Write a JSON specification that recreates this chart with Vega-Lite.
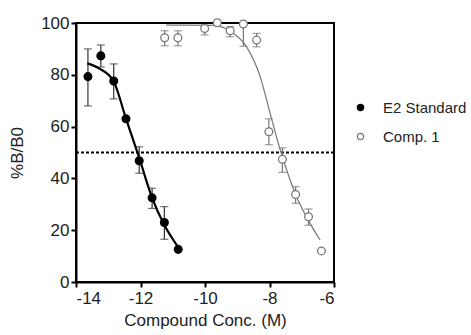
{
  "$schema": "https://vega.github.io/schema/vega-lite/v6.json",
  "autosize": {"type": "none"},
  "padding": {"left": 76, "top": 23, "right": 137, "bottom": 53},
  "width": 258,
  "height": 259,
  "background": "white",
  "config": {
    "view": {"stroke": "black", "strokeWidth": 2},
    "font": "Liberation Sans",
    "axis": {"grid": false, "domainColor": "black", "domainWidth": 2, "tickColor": "black", "tickWidth": 2, "tickSize": 5, "labelColor": "#222", "labelFontSize": 17, "labelFont": "Liberation Sans", "titleFont": "Liberation Sans", "titleFontSize": 17, "titleFontWeight": "normal", "titleColor": "#222"}
  },
  "datasets": {
    "pts": [
      {"series": "E2 Standard", "x": -13.63, "y": 79.3, "lo": 68, "hi": 90},
      {"series": "E2 Standard", "x": -13.23, "y": 87.3, "lo": 83, "hi": 91.5},
      {"series": "E2 Standard", "x": -12.83, "y": 77.6, "lo": 70.7, "hi": 84.2},
      {"series": "E2 Standard", "x": -12.45, "y": 63, "lo": null, "hi": null},
      {"series": "E2 Standard", "x": -12.04, "y": 46.8, "lo": 42, "hi": 52.2},
      {"series": "E2 Standard", "x": -11.64, "y": 32.5, "lo": 28.4, "hi": 36.2},
      {"series": "E2 Standard", "x": -11.26, "y": 23, "lo": 16.5, "hi": 29.1},
      {"series": "E2 Standard", "x": -10.83, "y": 12.6, "lo": null, "hi": null},
      {"series": "Comp. 1", "x": -11.25, "y": 94.3, "lo": 91.2, "hi": 97},
      {"series": "Comp. 1", "x": -10.84, "y": 94.3, "lo": 91.2, "hi": 97},
      {"series": "Comp. 1", "x": -10.01, "y": 97.9, "lo": 95.4, "hi": 99.2},
      {"series": "Comp. 1", "x": -9.62, "y": 100.1, "lo": null, "hi": null},
      {"series": "Comp. 1", "x": -9.22, "y": 97, "lo": 94.7, "hi": 98.6},
      {"series": "Comp. 1", "x": -8.81, "y": 99.6, "lo": 91, "hi": 99.6},
      {"series": "Comp. 1", "x": -8.4, "y": 93.4, "lo": 90.8, "hi": 96},
      {"series": "Comp. 1", "x": -8.02, "y": 58, "lo": 53, "hi": 63},
      {"series": "Comp. 1", "x": -7.6, "y": 47.4, "lo": 42.3, "hi": 51.8},
      {"series": "Comp. 1", "x": -7.19, "y": 33.8, "lo": 30.4, "hi": 36.8},
      {"series": "Comp. 1", "x": -6.79, "y": 25.2, "lo": 21.9, "hi": 28.2},
      {"series": "Comp. 1", "x": -6.39, "y": 12, "lo": null, "hi": null}
    ],
    "curve": [
      {"series": "E2 Standard", "x": -13.65, "y": 84.4},
      {"series": "E2 Standard", "x": -13.26, "y": 82.3},
      {"series": "E2 Standard", "x": -12.83, "y": 77.4},
      {"series": "E2 Standard", "x": -12.45, "y": 63.1},
      {"series": "E2 Standard", "x": -12.04, "y": 47.9},
      {"series": "E2 Standard", "x": -11.64, "y": 32.5},
      {"series": "E2 Standard", "x": -11.26, "y": 22},
      {"series": "E2 Standard", "x": -10.83, "y": 13.4},
      {"series": "Comp. 1", "x": -11.21, "y": 99.2},
      {"series": "Comp. 1", "x": -9.74, "y": 99.1},
      {"series": "Comp. 1", "x": -9.12, "y": 96.0},
      {"series": "Comp. 1", "x": -8.71, "y": 90.8},
      {"series": "Comp. 1", "x": -8.29, "y": 79.3},
      {"series": "Comp. 1", "x": -7.98, "y": 65.1},
      {"series": "Comp. 1", "x": -7.73, "y": 53.6},
      {"series": "Comp. 1", "x": -7.57, "y": 47.1},
      {"series": "Comp. 1", "x": -7.36, "y": 39.4},
      {"series": "Comp. 1", "x": -7.16, "y": 32.9},
      {"series": "Comp. 1", "x": -6.8, "y": 23.9},
      {"series": "Comp. 1", "x": -6.43, "y": 16.2}
    ]
  },
  "encoding": {
    "x": {"field": "x", "type": "quantitative", "scale": {"domain": [-14, -6], "nice": false, "zero": false}, "axis": {"values": [-14, -12, -10, -8, -6], "title": "Compound Conc. (M)", "titlePadding": 6, "labelPadding": 3, "labelExpr": "replace(datum.label, '\u2212', '-')"}},
    "y": {"field": "y", "type": "quantitative", "scale": {"domain": [0, 100], "nice": false}, "axis": {"values": [0, 20, 40, 60, 80, 100], "title": "%B/B0", "titlePadding": 14, "labelPadding": 2}}
  },
  "layer": [
    {
      "data": {"values": [{"v": 50}]},
      "mark": {"type": "rule", "color": "black", "strokeWidth": 2, "strokeDash": [3, 2]},
      "encoding": {"x": null, "y": {"field": "v", "type": "quantitative", "title": "%B/B0"}}
    },
    {
      "data": {"name": "pts"},
      "transform": [{"filter": "datum.lo != null && datum.series == 'E2 Standard'"}],
      "mark": {"type": "errorbar", "ticks": {"size": 8}, "thickness": 1.2, "color": "#333"},
      "encoding": {
        "y": {"field": "lo", "type": "quantitative", "title": "%B/B0"},
        "y2": {"field": "hi"}
      }
    },
    {
      "data": {"name": "pts"},
      "transform": [{"filter": "datum.lo != null && datum.series == 'Comp. 1'"}],
      "mark": {"type": "errorbar", "ticks": {"size": 8}, "thickness": 1.2, "color": "#777"},
      "encoding": {
        "y": {"field": "lo", "type": "quantitative", "title": "%B/B0"},
        "y2": {"field": "hi"}
      }
    },
    {
      "data": {"name": "curve"},
      "transform": [{"filter": "datum.series == 'E2 Standard'"}],
      "mark": {"type": "line", "interpolate": "monotone", "color": "black", "strokeWidth": 2.2},
      "encoding": {}
    },
    {
      "data": {"name": "curve"},
      "transform": [{"filter": "datum.series == 'Comp. 1'"}],
      "mark": {"type": "line", "interpolate": "monotone", "color": "#777", "strokeWidth": 1.2},
      "encoding": {}
    },
    {
      "data": {"name": "pts"},
      "mark": {"type": "point", "shape": "circle", "filled": true, "opacity": 1, "size": 60, "strokeWidth": 1.3},
      "encoding": {
        "fill": {"field": "series", "type": "nominal", "scale": {"domain": ["E2 Standard", "Comp. 1"], "range": ["black", "white"]}, "legend": {"title": null, "orient": "none", "legendX": 277, "legendY": 77, "labelFontSize": 15, "labelFont": "Liberation Sans", "labelColor": "#222", "symbolSize": 40, "symbolOpacity": 1, "symbolStrokeWidth": 1.3, "rowPadding": 13, "labelOffset": 15, "padding": 0}},
        "stroke": {"field": "series", "type": "nominal", "scale": {"domain": ["E2 Standard", "Comp. 1"], "range": ["black", "#777"]}}
      }
    }
  ]
}
